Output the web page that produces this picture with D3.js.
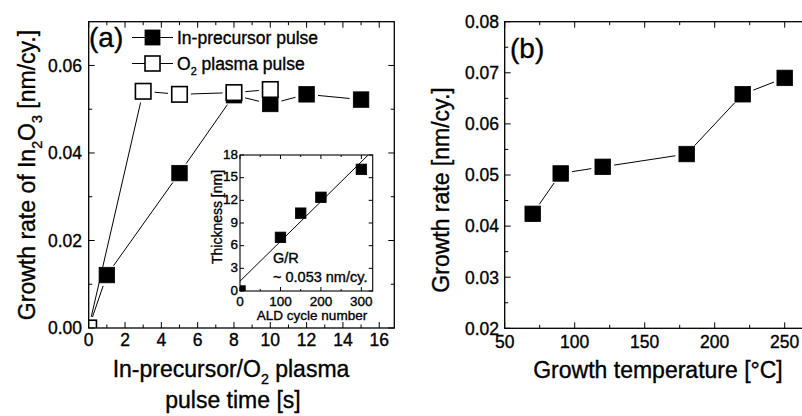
<!DOCTYPE html>
<html>
<head>
<meta charset="utf-8">
<script src="https://cdn.jsdelivr.net/npm/d3@7/dist/d3.min.js"></script>
<style>
  body { margin: 0; background: #fff; }
  text { font-family: "Liberation Sans", Arial, sans-serif; fill: #000; stroke: #000; stroke-width: 0.35px; }
</style>
</head>
<body>
<svg id="chart" width="802" height="416"></svg>
<script>
// ---- data ----
// (a) growth rate vs pulse time
var inX = [0, 1, 5, 8, 10, 12, 15];
var inY = [0, 0.0121, 0.0354, 0.0532, 0.0512, 0.0534, 0.0522];
var o2X = [0, 3, 5, 8, 10];
var o2Y = [0, 0.0541, 0.0534, 0.0538, 0.0545];
// inset: thickness vs ALD cycles, plus linear fit
var cycX = [0, 100, 150, 200, 300];
var thkY = [0, 7.1, 10.3, 12.4, 16.1];
var fitB = 1.3, fitK = 0.0527;
// (b) growth rate vs temperature
var tempX = [70, 90, 120, 180, 220, 250];
var rateY = [0.0424, 0.0503, 0.0516, 0.0541, 0.0658, 0.0690];

// tick values
var aXMaj = [0, 2, 4, 6, 8, 10, 12, 14, 16], aXMin = [1, 3, 5, 7, 9, 11, 13, 15];
var aYMaj = [0, 0.02, 0.04, 0.06], aYMin = [0.01, 0.03, 0.05];
var bXMaj = [50, 100, 150, 200, 250], bXMin = [75, 125, 175, 225];
var bYMaj = [0.02, 0.03, 0.04, 0.05, 0.06, 0.07, 0.08], bYMin = [0.025, 0.035, 0.045, 0.055, 0.065, 0.075];
var iXMaj = [0, 100, 200, 300], iXMin = [50, 150, 250];
var iYMaj = [0, 3, 6, 9, 12, 15, 18], iYMin = [];

var svg = d3.select("#chart");

// scales
var ax = d3.scaleLinear().domain([0, 16.83]).range([88.7, 394.3]);
var ay = d3.scaleLinear().domain([0, 0.07]).range([328, 21.7]);
var ix = d3.scaleLinear().domain([0, 328]).range([240, 372.7]);
var iy = d3.scaleLinear().domain([0, 18]).range([291, 155]);
var bx = d3.scaleLinear().domain([50, 275]).range([504.7, 819.7]);
var by = d3.scaleLinear().domain([0.02, 0.08]).range([328.3, 21.7]);

function seg(g, x1, y1, x2, y2, w) {
  g.append("line").attr("x1", x1).attr("y1", y1).attr("x2", x2).attr("y2", y2)
    .attr("stroke", "#000").attr("stroke-width", w || 1);
}

// frame with inward ticks on all four sides
function frame(g, xs, ys, xMaj, xMin, yMaj, yMin, big, small, sw) {
  var x0 = xs.range()[0], x1 = xs.range()[1], y0 = ys.range()[0], y1 = ys.range()[1];
  g.append("rect").attr("x", x0).attr("y", y1).attr("width", x1 - x0).attr("height", y0 - y1)
    .attr("fill", "none").attr("stroke", "#000").attr("stroke-width", sw);
  xMaj.forEach(function(v) { seg(g, xs(v), y0, xs(v), y0 - big); seg(g, xs(v), y1, xs(v), y1 + big); });
  xMin.forEach(function(v) { seg(g, xs(v), y0, xs(v), y0 - small); seg(g, xs(v), y1, xs(v), y1 + small); });
  yMaj.forEach(function(v) { seg(g, x0, ys(v), x0 + big, ys(v)); seg(g, x1, ys(v), x1 - big, ys(v)); });
  yMin.forEach(function(v) { seg(g, x0, ys(v), x0 + small, ys(v)); seg(g, x1, ys(v), x1 - small, ys(v)); });
}

function xLabels(g, xs, vals, y, fs, fmt) {
  vals.forEach(function(v) {
    g.append("text").attr("x", xs(v)).attr("y", y).attr("text-anchor", "middle")
      .style("font-size", fs + "px").text(fmt(v));
  });
}
function yLabels(g, ys, vals, x, fs, fmt, off) {
  vals.forEach(function(v) {
    g.append("text").attr("x", x).attr("y", ys(v) + fs * (off || 0.36)).attr("text-anchor", "end")
      .style("font-size", fs + "px").text(fmt(v));
  });
}

// text made of parts: [string, isSub]
function richText(g, parts, fs, transform, anchor) {
  var t = g.append("text").attr("transform", transform).attr("text-anchor", anchor || "middle")
    .style("font-size", fs + "px");
  var down = false;
  parts.forEach(function(p) {
    var s = t.append("tspan").text(p[0]);
    if (p[1]) { s.attr("dy", fs * 0.3).style("font-size", (fs * 0.62) + "px"); down = true; }
    else if (down) { s.attr("dy", -fs * 0.3); down = false; }
  });
  return t;
}

// connecting line that stops short of each marker
function gapLine(g, xs, ys, X, Y, gap) {
  for (var i = 0; i < X.length - 1; i++) {
    var xa = xs(X[i]), ya = ys(Y[i]), xb = xs(X[i + 1]), yb = ys(Y[i + 1]);
    var dx = xb - xa, dy = yb - ya, len = Math.sqrt(dx * dx + dy * dy);
    if (len <= 2 * gap) continue;
    var ux = dx / len, uy = dy / len;
    seg(g, xa + ux * gap, ya + uy * gap, xb - ux * gap, yb - uy * gap, 1);
  }
}

function squares(g, xs, ys, X, Y, size, filled) {
  g.selectAll(null).data(X).enter().append("rect")
    .attr("x", function(d) { return xs(d) - size / 2; })
    .attr("y", function(d, i) { return ys(Y[i]) - size / 2; })
    .attr("width", size).attr("height", size)
    .attr("fill", filled ? "#000" : "#fff")
    .attr("stroke", "#000").attr("stroke-width", filled ? 0.8 : 1.6);
}

var defs = svg.append("defs");
function clipFor(id, xs, ys) {
  defs.append("clipPath").attr("id", id).append("rect")
    .attr("x", xs.range()[0]).attr("y", ys.range()[1])
    .attr("width", xs.range()[1] - xs.range()[0]).attr("height", ys.range()[0] - ys.range()[1]);
}
clipFor("clipA", ax, ay);
clipFor("clipI", ix, iy);
clipFor("clipB", bx, by);

var f2 = d3.format(".2f"), f0 = d3.format("d");

// ================= panel (a) =================
var ga = svg.append("g");
var gaData = ga.append("g").attr("clip-path", "url(#clipA)");
gapLine(gaData, ax, ay, inX, inY, 11.5);
gapLine(gaData, ax, ay, o2X, o2Y, 11.5);
squares(gaData, ax, ay, inX, inY, 15.5, true);
squares(gaData, ax, ay, o2X, o2Y, 15.5, false);
frame(ga, ax, ay, aXMaj, aXMin, aYMaj, aYMin, 6, 3.5, 1.3);
xLabels(ga, ax, aXMaj, 346, 17.5, f0);
yLabels(ga, ay, aYMaj, 82, 17.5, f2);

ga.append("text").attr("x", 89).attr("y", 47).style("font-size", "28px").text("(a)");

// legend
var legRows = [["In-precursor pulse", true, 37.5], ["O2 plasma pulse", false, 63.5]];
legRows.forEach(function(r) {
  seg(ga, 132, r[2], 173, r[2], 1);
  ga.append("rect").attr("x", 145).attr("y", r[2] - 7.5).attr("width", 15).attr("height", 15)
    .attr("fill", r[1] ? "#000" : "#fff").attr("stroke", "#000").attr("stroke-width", r[1] ? 0.8 : 1.6);
});
ga.append("text").attr("x", 177).attr("y", 44).style("font-size", "17.5px").text("In-precursor pulse");
richText(ga, [["O"], ["2", true], [" plasma pulse"]], 17.5, "translate(177,70)", "start");

// axis titles
richText(ga, [["Growth rate of In"], ["2", true], ["O"], ["3", true], [" [nm/cy.]"]], 23,
  "translate(35,175) rotate(-90)");
richText(ga, [["In-precursor/O"], ["2", true], [" plasma"]], 23, "translate(231,377)");
ga.append("text").attr("x", 233).attr("y", 408).attr("text-anchor", "middle")
  .style("font-size", "23px").text("pulse time [s]");

// ---- inset ----
var gi = svg.append("g");
gi.append("rect").attr("x", ix.range()[0]).attr("y", iy.range()[1])
  .attr("width", ix.range()[1] - ix.range()[0]).attr("height", iy.range()[0] - iy.range()[1])
  .attr("fill", "#fff");
var giData = gi.append("g").attr("clip-path", "url(#clipI)");
var fitEnd = (18 - fitB) / fitK;
seg(giData, ix(0), iy(fitB), ix(fitEnd), iy(18), 1);
squares(giData, ix, iy, cycX, thkY, 10.5, true);
frame(gi, ix, iy, iXMaj, iXMin, iYMaj, iYMin, 4, 2, 1.1);
xLabels(gi, ix, iXMaj, 305.5, 13.5, f0);
yLabels(gi, iy, iYMaj, 238, 13.5, f0, 0.28);
gi.append("text").attr("x", 312).attr("y", 320).attr("text-anchor", "middle")
  .style("font-size", "13.5px").text("ALD cycle number");
gi.append("text").attr("transform", "translate(222,217) rotate(-90)").attr("text-anchor", "middle")
  .style("font-size", "14px").text("Thickness [nm]");
gi.append("text").attr("x", 273).attr("y", 263).style("font-size", "14.5px").text("G/R");
gi.append("text").attr("x", 273).attr("y", 282).style("font-size", "14.5px").text("~ 0.053 nm/cy.");

// ================= panel (b) =================
var gb = svg.append("g");
var gbData = gb.append("g").attr("clip-path", "url(#clipB)");
gapLine(gbData, bx, by, tempX, rateY, 11.5);
squares(gbData, bx, by, tempX, rateY, 15.5, true);
frame(gb, bx, by, bXMaj, bXMin, bYMaj, bYMin, 6, 3.5, 1.3);
xLabels(gb, bx, bXMaj, 348, 17.5, f0);
yLabels(gb, by, bYMaj, 499, 17.5, f2);
gb.append("text").attr("x", 510).attr("y", 58).style("font-size", "28px").text("(b)");
gb.append("text").attr("transform", "translate(449,190) rotate(-90)").attr("text-anchor", "middle")
  .style("font-size", "23px").text("Growth rate [nm/cy.]");
gb.append("text").attr("x", 658).attr("y", 378).attr("text-anchor", "middle")
  .style("font-size", "23px").text("Growth temperature [\u00B0C]");
</script>
</body>
</html>
